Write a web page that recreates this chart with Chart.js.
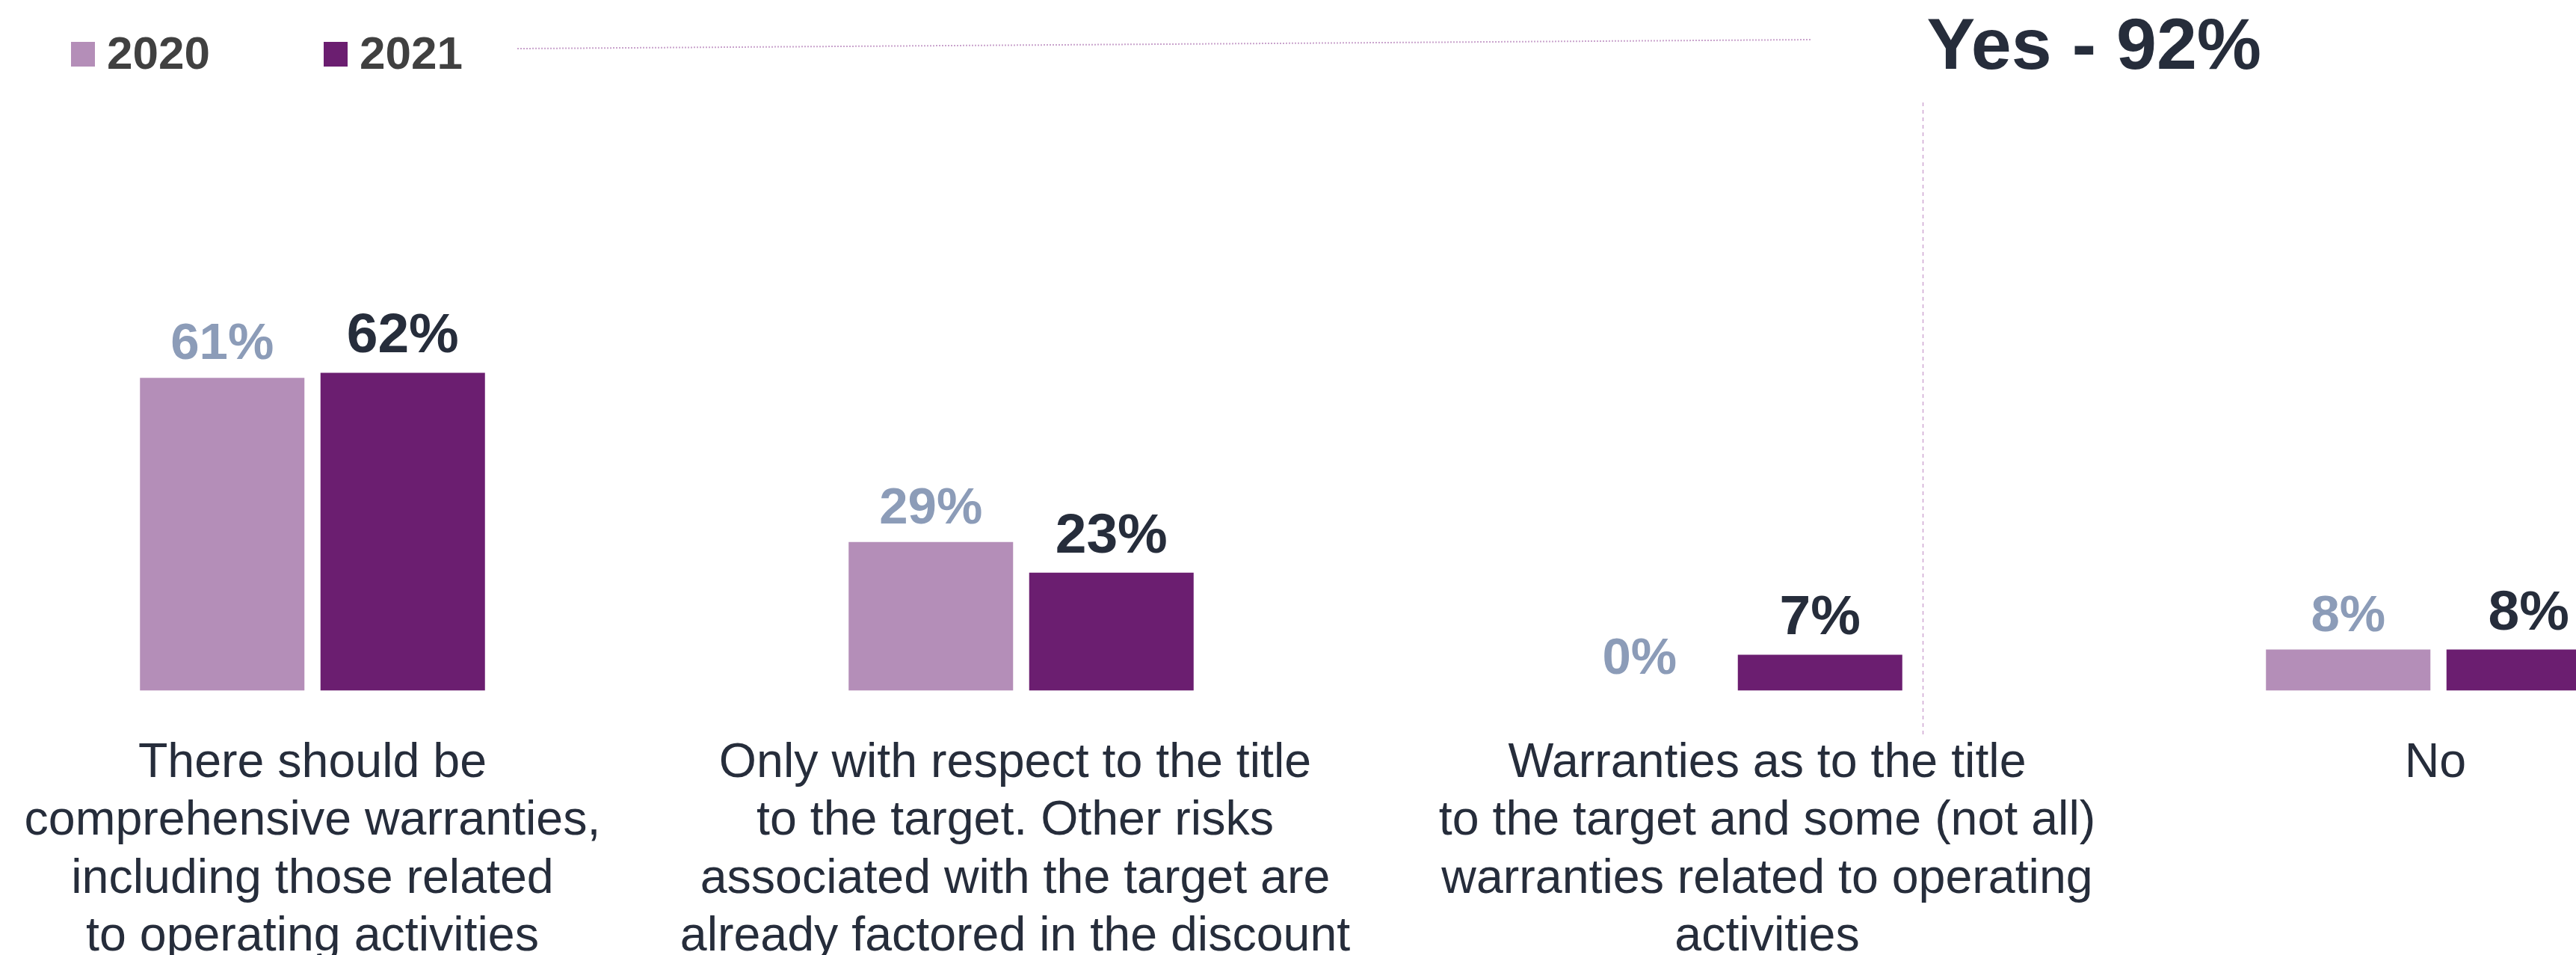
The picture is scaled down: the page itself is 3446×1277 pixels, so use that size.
<!DOCTYPE html>
<html>
<head>
<meta charset="utf-8">
<script src="https://cdn.jsdelivr.net/npm/chart.js@4.4.1/dist/chart.umd.min.js"></script>
<style>
  html, body { margin: 0; padding: 0; width: 3446px; height: 1277px; overflow: hidden; background: #ffffff; }
  #wrap { position: absolute; left: -56px; top: 0; width: 3792px; height: 1351px; }
</style>
</head>
<body>
<div id="wrap"><canvas id="c"></canvas></div>
<script>
// ---- data ----
const categories = [
  ["There should be", "comprehensive warranties,", "including those related", "to operating activities"],
  ["Only with respect to the title", "to the target. Other risks", "associated with the target are", "already factored in the discount"],
  ["Warranties as to the title", "to the target and some (not all)", "warranties related to operating", "activities"],
  ["No"]
];
const seriesLabels = ["2020", "2021"];
const values2020 = [61, 29, 0, 8];
const values2021 = [62, 23, 7, 8];
const summaryText = "Yes - 92%";

// ---- styles ----
const COL_2020 = "#b48eb8";
const COL_2021 = "#6b1e70";
const LBL_2020 = "#8c9cb8";
const LBL_2021 = "#262d3b";
const TEXT = "#262d3b";
const FONT = "'Liberation Sans', Arial, Helvetica, sans-serif";
const OFFSET_X = 56; // canvas is shifted left by this amount
const TICK_NUDGE = [0, -8, 50, -4]; // small horizontal nudges of category labels (layout only)

const decorPlugin = {
  id: "decor",
  beforeDraw(chart) {
    const xs = chart.scales.x;
    const items = xs.getLabelItems();
    if (items && !items._nudged) {
      items.forEach((it, i) => {
        if (it.options && it.options.translation) it.options.translation[0] += (TICK_NUDGE[i] || 0);
      });
      items._nudged = true;
    }
  },
  afterDatasetsDraw(chart) {
    const ctx = chart.ctx;
    chart.data.datasets.forEach((ds, di) => {
      const meta = chart.getDatasetMeta(di);
      ctx.save();
      ctx.textAlign = "center";
      ctx.textBaseline = "alphabetic";
      ctx.fillStyle = di === 0 ? LBL_2020 : LBL_2021;
      ctx.font = "bold " + (di === 0 ? 69 : 75) + "px " + FONT;
      meta.data.forEach((bar, i) => {
        const v = ds.data[i];
        const gap = v === 0 ? 22 : (di === 0 ? 25 : 27);
        ctx.fillText(v + "%", bar.x, bar.y - gap);
      });
      ctx.restore();
    });
  },
  afterDraw(chart) {
    const ctx = chart.ctx;
    const xs = chart.scales.x;
    const ys = chart.scales.y;
    // legend
    ctx.save();
    ctx.font = "bold 62px " + FONT;
    ctx.textBaseline = "alphabetic";
    ctx.textAlign = "left";
    const legendX = [95, 433];
    chart.data.datasets.forEach((ds, di) => {
      const lx = legendX[di] + OFFSET_X;
      ctx.fillStyle = ds.backgroundColor;
      ctx.fillRect(lx, 56, 32, 33);
      ctx.fillStyle = "#404040";
      ctx.fillText(ds.label, lx + 48, 92);
    });
    ctx.restore();

    // dotted connector line
    ctx.save();
    ctx.strokeStyle = "#c9a3cc";
    ctx.lineWidth = 2;
    ctx.setLineDash([2, 2]);
    ctx.beginPath();
    ctx.moveTo(692 + OFFSET_X, 65);
    ctx.lineTo(2424 + OFFSET_X, 53);
    ctx.stroke();
    ctx.restore();

    // vertical dashed separator between "yes" answers and "no"
    const sepX = Math.round(xs.getPixelForValue(2.272)) + 0.5;
    ctx.save();
    ctx.strokeStyle = "#cfa8d3";
    ctx.lineWidth = 1.5;
    ctx.setLineDash([5, 5]);
    ctx.beginPath();
    ctx.moveTo(sepX, 137);
    ctx.lineTo(sepX, ys.bottom + 60);
    ctx.stroke();
    ctx.restore();

    // summary title
    ctx.save();
    ctx.font = "bold 97px " + FONT;
    ctx.fillStyle = TEXT;
    ctx.textAlign = "left";
    ctx.textBaseline = "alphabetic";
    ctx.fillText(summaryText, sepX + 5, 92);
    ctx.restore();
  }
};

new Chart(document.getElementById("c"), {
  type: "bar",
  data: {
    labels: categories,
    datasets: [
      { label: seriesLabels[0], data: values2020, backgroundColor: COL_2020 },
      { label: seriesLabels[1], data: values2021, backgroundColor: COL_2021 }
    ]
  },
  options: {
    responsive: true,
    maintainAspectRatio: false,
    animation: false,
    devicePixelRatio: 1,
    layout: { padding: { top: 238, left: 0, right: 0, bottom: 0 } },
    datasets: { bar: { categoryPercentage: 0.5095, barPercentage: 0.911 } },
    plugins: {
      legend: { display: false },
      tooltip: { enabled: false },
      title: { display: false }
    },
    scales: {
      x: {
        offset: true,
        grid: { display: false, drawTicks: false },
        border: { display: false },
        ticks: {
          color: TEXT,
          font: { family: FONT, size: 64.5, lineHeight: 1.2 },
          padding: 59,
          maxRotation: 0,
          minRotation: 0,
          autoSkip: false
        }
      },
      y: {
        display: false,
        min: 0,
        max: 100
      }
    }
  },
  plugins: [decorPlugin]
});
</script>
</body>
</html>
